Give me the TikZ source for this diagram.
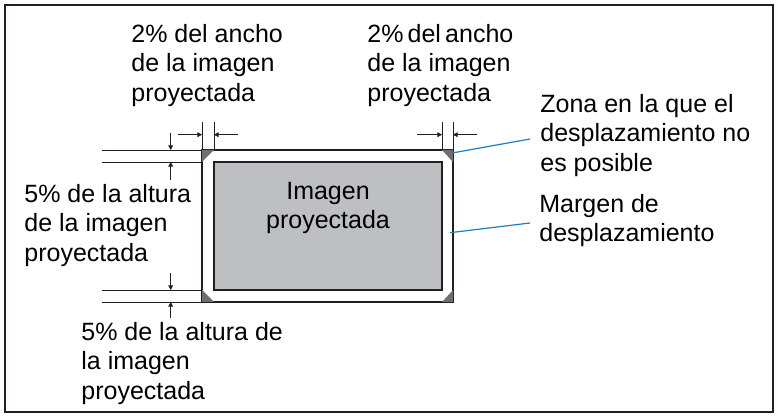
\documentclass[tikz,border=0pt]{standalone}
\usepackage{fontspec}
\setmainfont{Liberation Sans}
\usepackage{tikz}
\usetikzlibrary{arrows.meta}
\definecolor{lineblk}{HTML}{231F20}
\definecolor{imgfill}{HTML}{BEBFC2}
\definecolor{cornerfill}{HTML}{6E6E70}
\definecolor{leadblue}{HTML}{1F7EC1}

\begin{document}
\begin{tikzpicture}[x=0.5pt,y=-0.5pt,
  frame/.style={draw=lineblk,line width=1pt},
  edge/.style={draw=lineblk,line width=0.75pt},
  dimline/.style={draw=lineblk,line width=0.4pt},
  arr/.style={dimline,-{Triangle[length=2.3pt,width=2.4pt]}},
  nozone/.style={fill=cornerfill},
  lead/.style={draw=leadblue,line width=0.6pt},
  label/.style={anchor=north west,inner sep=0pt,align=left,
    font=\fontsize{12.5pt}{14.75pt}\selectfont}]
  \useasboundingbox (0,0) rectangle (778,417);
  \draw[frame] (5,5) rectangle (773,412);
  % extension lines
  \draw[dimline] (102,150) -- (202,150);
  \draw[dimline] (102,162) -- (202,162);
  \draw[dimline] (102,290) -- (202,290);
  \draw[dimline] (102,302) -- (202,302);
  \draw[dimline] (202,122) -- (202,150);
  \draw[dimline] (214,122) -- (214,162);
  \draw[dimline] (442,122) -- (442,162);
  \draw[dimline] (453,122) -- (453,150);
  % rectangles
  \coordinate (otl) at (202,150);
  \coordinate (obr) at (453,302);
  \coordinate (itl) at (214,162);
  \coordinate (ibr) at (442,290);
  \draw[edge,fill=white] (otl) rectangle (obr);
  \draw[edge,fill=imgfill] (itl) rectangle (ibr);
  \fill[nozone] (202,150) -- (214,150) -- (202,162) -- cycle;
  \fill[nozone] (442,150) -- (453,150) -- (453,162) -- cycle;
  \fill[nozone] (202,290) -- (202,302) -- (214,302) -- cycle;
  \fill[nozone] (453,290) -- (453,302) -- (442,302) -- cycle;
  % dimension arrows
  \draw[arr] (178,134.7) -- (202,134.7);
  \draw[arr] (238,134.7) -- (214,134.7);
  \draw[arr] (417,134.7) -- (442,134.7);
  \draw[arr] (477,134.7) -- (453,134.7);
  \draw[arr] (170.7,133) -- (170.7,150);
  \draw[arr] (170.7,180) -- (170.7,162);
  \draw[arr] (170.7,273) -- (170.7,290);
  \draw[arr] (170.7,318) -- (170.7,302);
  % labels
  \node[label] (wleft) at (131,23.8) {2\% del ancho\\de la imagen\\proyectada};
  \node[label] (wright) at (367,23.8) {2\%\,del\,ancho\\de la imagen\\proyectada};
  \node[label] (zona) at (540,93.5) {Zona en la que el\\desplazamiento no\\es posible};
  \node[label] (margen) at (539,193.5) {Margen de\\desplazamiento};
  \node[label] (htop) at (24,183.5) {5\% de la altura\\de la imagen\\proyectada};
  \node[label] (hbot) at (81,321.8) {5\% de la altura de\\la imagen\\proyectada};
  \node[label,anchor=north,align=center] (img) at (328,181.8) {Imagen\\proyectada};
  % leaders
  \coordinate (nzpt) at (452,153);
  \coordinate (nzend) at (530,139);
  \coordinate (mgpt) at (450,232.7);
  \coordinate (mgend) at (530,223);
  \draw[lead] (nzpt) -- (nzend);
  \draw[lead] (mgpt) -- (mgend);
\end{tikzpicture}
\end{document}
